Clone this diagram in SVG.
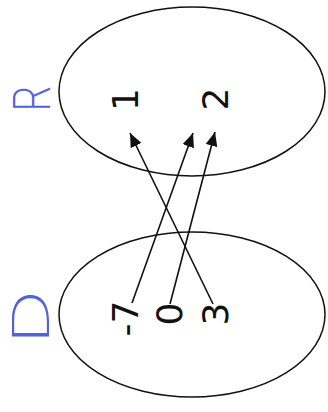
<svg xmlns="http://www.w3.org/2000/svg" width="328" height="412" viewBox="0 0 328 412">
<style>
.set{fill:none;stroke:#111;stroke-width:1.5}
.num{font-family:"DejaVu Sans",sans-serif;font-size:36px;fill:#111;text-anchor:middle}
.hand{font-family:"Inter","DejaVu Sans",sans-serif;font-weight:200;fill:#5163da;text-anchor:middle}
.arr{stroke:#111;stroke-width:1.6;fill:none;marker-end:url(#ah)}
</style>
<defs>
<marker id="ah" markerUnits="userSpaceOnUse" markerWidth="16" markerHeight="12" refX="14" refY="6" orient="auto">
<path d="M0,0 L14,6 L0,12 Z" fill="#111"/>
</marker>
</defs>
<rect width="328" height="412" fill="#fff"/>
<g id="codomain">
<ellipse class="set" cx="192" cy="91.5" rx="133" ry="84.5"/>
<text class="num" transform="translate(125,99.5) rotate(-90)" y="13">1</text>
<text class="num" transform="translate(215,99) rotate(-90)" y="13">2</text>
</g>
<g id="domain">
<ellipse class="set" cx="192" cy="314.5" rx="133" ry="82.5"/>
<text class="num" transform="translate(125,318.5) rotate(-90)" y="13">-7</text>
<text class="num" transform="translate(168.5,314) rotate(-90)" y="13">0</text>
<text class="num" transform="translate(215,314) rotate(-90)" y="13">3</text>
</g>
<g id="label-R">
<text class="hand" font-size="50" transform="translate(29,99) rotate(-90) scale(0.85,1)" y="21">R</text>
</g>
<g id="label-D">
<text class="hand" font-size="51" transform="translate(31,317) rotate(-90) scale(1.5,1)" y="18">D</text>
</g>
<g id="connectors">
<line class="arr" x1="213" y1="304" x2="130" y2="133"/>
<line class="arr" x1="132" y1="303" x2="193" y2="133"/>
<line class="arr" x1="170" y1="304" x2="215" y2="132"/>
</g>
</svg>
